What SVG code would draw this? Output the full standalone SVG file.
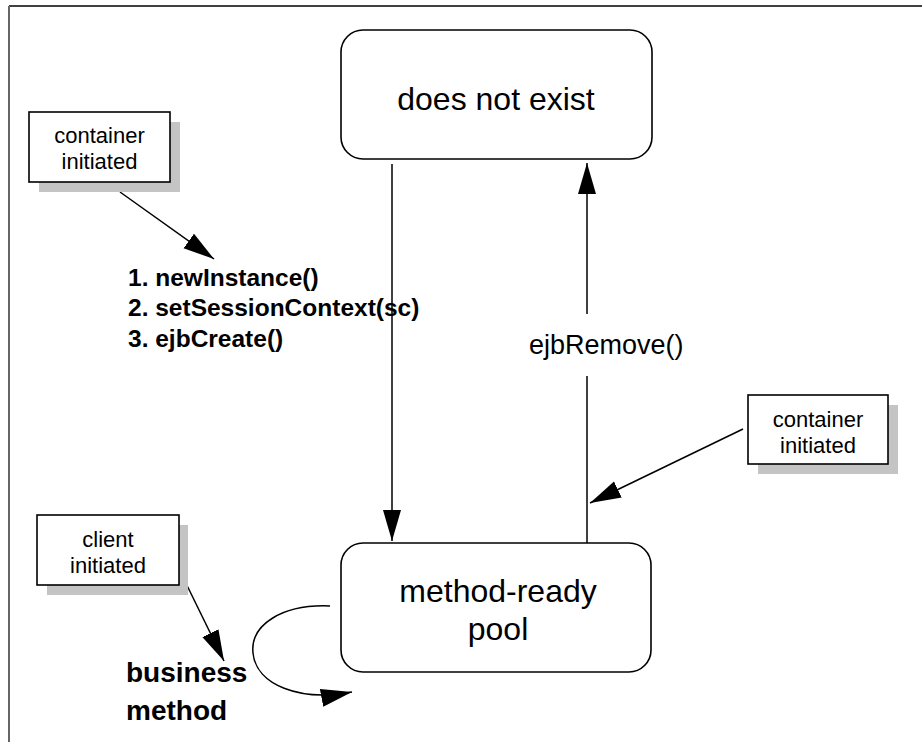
<svg xmlns="http://www.w3.org/2000/svg" width="922" height="742" viewBox="0 0 922 742">
<style>
.state{fill:#fff;stroke:#000;stroke-width:1.6}
.note{fill:#fff;stroke:#000;stroke-width:1.6}
.shadow{fill:#c4c4c4;stroke:none}
.conn{fill:none;stroke:#000;stroke-width:1.5}
.st{font-family:"Liberation Sans",Arial,sans-serif;font-size:32px;text-anchor:middle;fill:#000}
.nt{font-family:"Liberation Sans",Arial,sans-serif;font-size:22px;text-anchor:middle;fill:#000}
.bt{font-family:"Liberation Sans",Arial,sans-serif;font-weight:bold;fill:#000}
.lbl{font-family:"Liberation Sans",Arial,sans-serif;font-size:27px;fill:#000}
</style>
<defs>
<marker id="ah" markerUnits="userSpaceOnUse" markerWidth="34" markerHeight="20" refX="31" refY="9" orient="auto">
<path d="M0,0 L31,9 L0,18 Z" fill="#000"/>
</marker>
</defs>
<rect width="922" height="742" fill="#fff"/>
<g id="frame">
<line x1="9" y1="6" x2="922" y2="6" stroke="#000" stroke-width="1.6"/>
<line x1="9" y1="6" x2="9" y2="742" stroke="#666" stroke-width="2"/>
</g>
<g id="connectors">
<line class="conn" x1="392" y1="164" x2="392" y2="541" marker-end="url(#ah)"/>
<line class="conn" x1="587" y1="543" x2="587" y2="163" marker-end="url(#ah)"/>
<line class="conn" x1="120" y1="192" x2="214" y2="259" marker-end="url(#ah)"/>
<line class="conn" x1="743" y1="429" x2="590" y2="503" marker-end="url(#ah)"/>
<line class="conn" x1="177" y1="565" x2="224" y2="661" marker-end="url(#ah)"/>
<path class="conn" d="M330,606 C282,604 250,625 253,653 C256,685 300,702 352,692" marker-end="url(#ah)"/>
</g>
<g id="ejbRemove-label">
<rect x="526" y="314" width="162" height="62" fill="#fff"/>
<text class="lbl" x="529" y="354">ejbRemove()</text>
</g>
<g id="does-not-exist">
<rect class="state" x="341" y="30" width="311" height="129" rx="22" ry="22"/>
<text class="st" x="496" y="110">does not exist</text>
</g>
<g id="method-ready-pool">
<rect class="state" x="341" y="543" width="310" height="129" rx="22" ry="22"/>
<text class="st" x="498" y="602">method-ready</text>
<text class="st" x="498" y="640">pool</text>
</g>
<g id="container-initiated-1">
<rect class="shadow" x="39" y="122" width="141" height="70"/>
<rect class="note" x="29" y="112" width="141" height="70"/>
<text class="nt" x="99.5" y="143">container</text>
<text class="nt" x="99.5" y="169">initiated</text>
</g>
<g id="container-initiated-2">
<rect class="shadow" x="758" y="405" width="140" height="69"/>
<rect class="note" x="748" y="395" width="140" height="69"/>
<text class="nt" x="818" y="427">container</text>
<text class="nt" x="818" y="453">initiated</text>
</g>
<g id="client-initiated">
<rect class="shadow" x="47" y="525" width="141" height="70"/>
<rect class="note" x="37" y="515" width="142" height="70"/>
<text class="nt" x="108" y="547">client</text>
<text class="nt" x="108" y="573">initiated</text>
</g>
<g id="creation-steps">
<text class="bt" font-size="24.5" x="128" y="286">1. newInstance()</text>
<text class="bt" font-size="24.5" x="128" y="316">2. setSessionContext(sc)</text>
<text class="bt" font-size="24.5" x="128" y="347">3. ejbCreate()</text>
</g>
<g id="business-method">
<text class="bt" font-size="28" x="126" y="682">business</text>
<text class="bt" font-size="28" x="126" y="720">method</text>
</g>
</svg>
